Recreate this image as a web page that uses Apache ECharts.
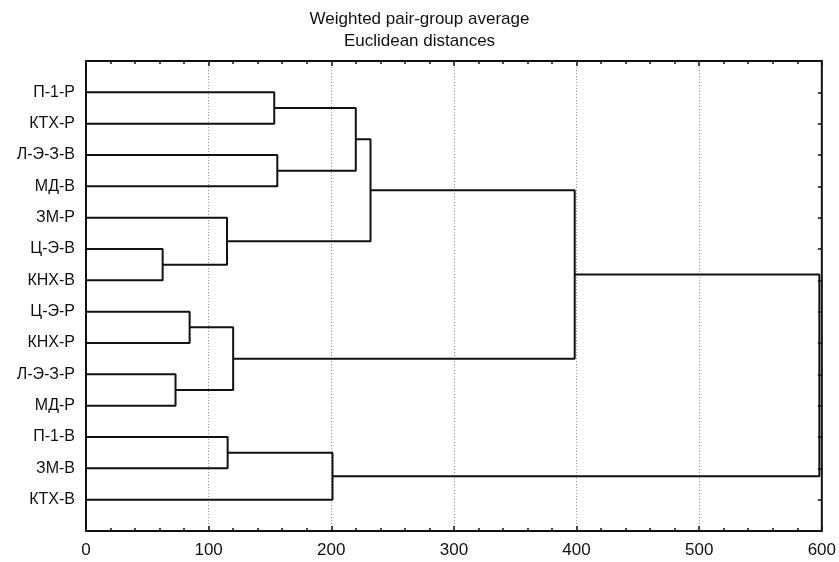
<!DOCTYPE html>
<html>
<head>
<meta charset="utf-8">
<script src="https://cdn.jsdelivr.net/npm/echarts@6/dist/echarts.min.js"></script>
<style>html,body{margin:0;padding:0;background:#fff}#c{width:839px;height:562px}</style>
</head>
<body>
<div id="c"></div>
<script>
// Leaf labels, top to bottom
const leaves = ['П-1-Р','КТХ-Р','Л-Э-З-В','МД-В','ЗМ-Р','Ц-Э-В','КНХ-В','Ц-Э-Р','КНХ-Р','Л-Э-З-Р','МД-Р','П-1-В','ЗМ-В','КТХ-В'];
// Merges: node ids 0..13 are leaves, each merge creates node 14, 15, ...
const mergeLeft   = [0, 2, 14, 5, 4, 16, 7, 9, 20, 19, 11, 24, 23];
const mergeRight  = [1, 3, 15, 6, 17, 18, 8, 10, 21, 22, 12, 13, 25];
const mergeHeight = [153.5, 156, 220, 62.5, 115, 232, 84.5, 73, 120, 398.5, 115.5, 201, 598];
const xTicks = [0, 100, 200, 300, 400, 500, 600];

// node positions (row index from 1, height)
const nodeY = leaves.map((_, i) => i + 1);
const nodeH = leaves.map(() => 0);
const linkSeries = [];
mergeLeft.forEach((l, k) => {
  const r = mergeRight[k], h = mergeHeight[k];
  const data = [[nodeH[l], nodeY[l]], [h, nodeY[l]], [h, nodeY[r]], [nodeH[r], nodeY[r]]];
  nodeY.push((nodeY[l] + nodeY[r]) / 2);
  nodeH.push(h);
  linkSeries.push({
    type: 'line', data: data, symbol: 'none', silent: true, animation: false,
    lineStyle: { color: '#111', width: 2 }, xAxisIndex: 0, yAxisIndex: 0
  });
});

const font = "'Liberation Sans', Arial, sans-serif";
const tickStyle = { color: '#111', width: 1.5 };
const chart = echarts.init(document.getElementById('c'));
chart.setOption({
  animation: false,
  title: {
    text: 'Weighted pair-group average\nEuclidean distances',
    left: 'center', top: 3,
    textStyle: { fontFamily: font, fontSize: 17, fontWeight: 'normal', color: '#111', lineHeight: 22 }
  },
  grid: { left: 86, right: 16, top: 61, bottom: 31, show: true, borderColor: '#111', borderWidth: 2, backgroundColor: 'transparent' },
  xAxis: [
    { type: 'value', min: xTicks[0], max: xTicks[xTicks.length - 1], interval: 100, position: 'bottom',
      axisLine: { show: false, onZero: false },
      axisTick: { show: true, inside: true, length: 5, lineStyle: tickStyle },
      minorTick: { show: true, splitNumber: 5, length: 3, lineStyle: tickStyle },
      splitLine: { show: true, showMinLine: false, showMaxLine: false, lineStyle: { color: '#999', type: [1, 2], width: 1 } },
      axisLabel: { margin: 11, fontFamily: font, fontSize: 17, color: '#111' } },
    { type: 'value', min: xTicks[0], max: xTicks[xTicks.length - 1], interval: 100, position: 'top',
      axisLine: { show: false, onZero: false },
      axisTick: { show: true, inside: true, length: 5, lineStyle: tickStyle },
      minorTick: { show: true, splitNumber: 5, length: 3, lineStyle: tickStyle },
      splitLine: { show: false }, axisLabel: { show: false } }
  ],
  yAxis: [
    { type: 'value', min: 0, max: leaves.length + 1, interval: 1, inverse: true, position: 'left',
      axisLine: { show: false, onZero: false }, axisTick: { show: false }, splitLine: { show: false },
      axisLabel: { margin: 11, fontFamily: font, fontSize: 16, color: '#111',
        formatter: v => (v >= 1 && v <= leaves.length) ? leaves[v - 1] : '' } },
    { type: 'value', min: 0, max: leaves.length + 1, interval: 1, inverse: true, position: 'right',
      axisLine: { show: false, onZero: false }, splitLine: { show: false }, axisLabel: { show: false },
      axisTick: { show: true, inside: true, length: 4, lineStyle: tickStyle } }
  ],
  series: linkSeries
});
</script>
</body>
</html>
